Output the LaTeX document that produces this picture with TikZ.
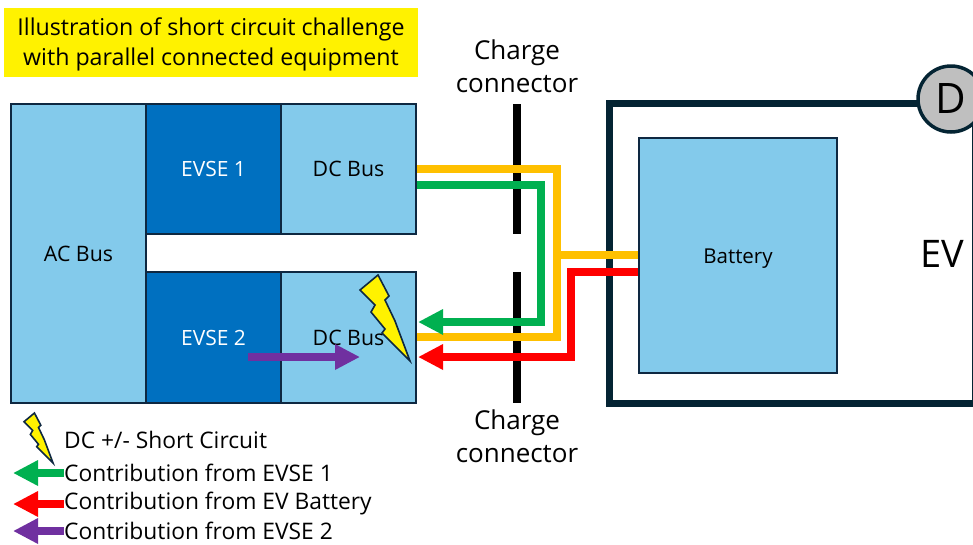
\documentclass[tikz,border=0pt]{standalone}
\usepackage{fontspec}
\setmainfont{Open Sans}
\usetikzlibrary{arrows.meta}
\newcommand{\fs}[1]{\fontsize{#1}{#1}\selectfont}
\definecolor{lightb}{HTML}{83CAEB}
\definecolor{darkb}{HTML}{0070C0}
\definecolor{edgec}{HTML}{0E2841}
\definecolor{evc}{HTML}{042433}
\definecolor{orangec}{HTML}{FFC000}
\definecolor{greenc}{HTML}{00B050}
\definecolor{redc}{HTML}{FF0000}
\definecolor{purplec}{HTML}{7030A0}
\definecolor{grayc}{HTML}{BFBFBF}
\tikzset{
 lightbox/.style={draw=edgec,line width=1.6pt,fill=lightb,inner sep=0pt,font=\fs{21.3},text=black},
 darkbox/.style={draw=edgec,line width=1.6pt,fill=darkb,inner sep=0pt,font=\fs{21},text=white},
 barline/.style={line width=8pt,black},
 wire/.style={line width=7.5pt,miter limit=10},
 headed/.style={wire,-{Triangle[length=25pt,width=24pt]}},
 bolt/.style={fill=yellow,draw=edgec,line width=1.6pt,line join=miter},
 legendtext/.style={anchor=west,inner sep=0pt,font=\fs{22.8},text=black},
 bigtext/.style={align=center,inner sep=0pt,font=\fs{26},text=black}
}
\newcommand{\boltshape}{(18,0) -- (0,15) -- (15,30) -- (11,37) -- (25,54) -- (22,58) -- (50,86) -- (35,46) -- (25,25) -- (29,21) -- cycle}
\begin{document}
\begin{tikzpicture}[x=1pt,y=-1pt]
\useasboundingbox (0,0) rectangle (973,544);
\clip (0,0) rectangle (973,544);
% title
\node[fill=yellow,minimum width=414pt,minimum height=69pt,inner sep=0pt] (title) at (211,42.5) {};
\node[align=center,inner sep=0pt,font=\fs{23.2},text=black] (titletext) at (211,44.5) {Illustration of short circuit challenge\\[7.5pt]with parallel connected equipment};
% boxes
\node[lightbox,minimum width=135pt,minimum height=299pt] (ac) at (78.5,253.5) {AC Bus};
\node[darkbox,minimum width=135pt,minimum height=130pt] (evse1) at (213.5,169) {EVSE 1};
\node[lightbox,minimum width=135pt,minimum height=130pt] (dc1) at (348.5,169) {DC Bus};
\node[darkbox,minimum width=135pt,minimum height=131pt] (evse2) at (213.5,337.5) {EVSE 2};
\node[lightbox,minimum width=135pt,minimum height=131pt] (dc2) at (348.5,337.5) {DC Bus};
% EV
\node[draw=evc,line width=7pt,minimum width=366pt,minimum height=300pt,inner sep=0pt] (ev) at (792,253.5) {};
\node[lightbox,minimum width=198pt,minimum height=235pt] (batt) at (738,255.5) {};
\node[inner sep=0pt,font=\fs{20.5},text=black] (battlabel) at (738,258.5) {Battery};
\node[inner sep=0pt,font=\fs{38},text=black] (evlabel) at (942.5,254) {EV};
\node[circle,draw=evc,line width=3.5pt,fill=grayc,minimum size=66pt,inner sep=0pt,font=\fs{42},text=black] (driver) at (951,99) {D};
% charge connector bars
\coordinate (b1t) at (517,104); \coordinate (b1b) at (517,234);
\coordinate (b2t) at (517,272); \coordinate (b2b) at (517,403);
\draw[barline] (b1t) -- (b1b);
\draw[barline] (b2t) -- (b2b);
\node[bigtext] (cc1) at (517,66) {Charge\\[7pt]connector};
\node[bigtext] (cc2) at (517,436.5) {Charge\\[7pt]connector};
% wires
\coordinate (oj) at (557,255);
\draw[wire,orangec] (dc1.east |- 0,169) -| (oj) |- (dc2.east |- 0,337);
\draw[wire,orangec] (oj) -- (batt.west |- oj);
\draw[headed,greenc] (dc1.east |- 0,185) -- (541,185) -- (541,322) -- (418,322);
\draw[headed,redc] (batt.west |- 0,272) -- (571,272) -- (571,357) -- (418,357);
% short circuit
\coordinate (pa) at (248,357); \coordinate (pb) at (360,357);
\draw[headed,purplec] (pa) -- (pb);
\begin{scope}[shift={(360,275)}]
\draw[bolt] \boltshape;
\end{scope}
% legend
\begin{scope}[shift={(24,413)},scale=0.58]
\draw[bolt] \boltshape;
\end{scope}
\node[legendtext] (l1) at (64,440) {DC +/- Short Circuit};
\node[legendtext] (l2) at (64,473) {Contribution from EVSE 1};
\node[legendtext] (l3) at (64,504) {Contribution from EV Battery};
\node[legendtext] (l4) at (64,531) {Contribution from EVSE 2};
\draw[headed,greenc] (l2.west) -- (13,473);
\draw[headed,redc] (l3.west) -- (13,504);
\draw[headed,purplec] (l4.west) -- (13,531);
\end{tikzpicture}
\end{document}
